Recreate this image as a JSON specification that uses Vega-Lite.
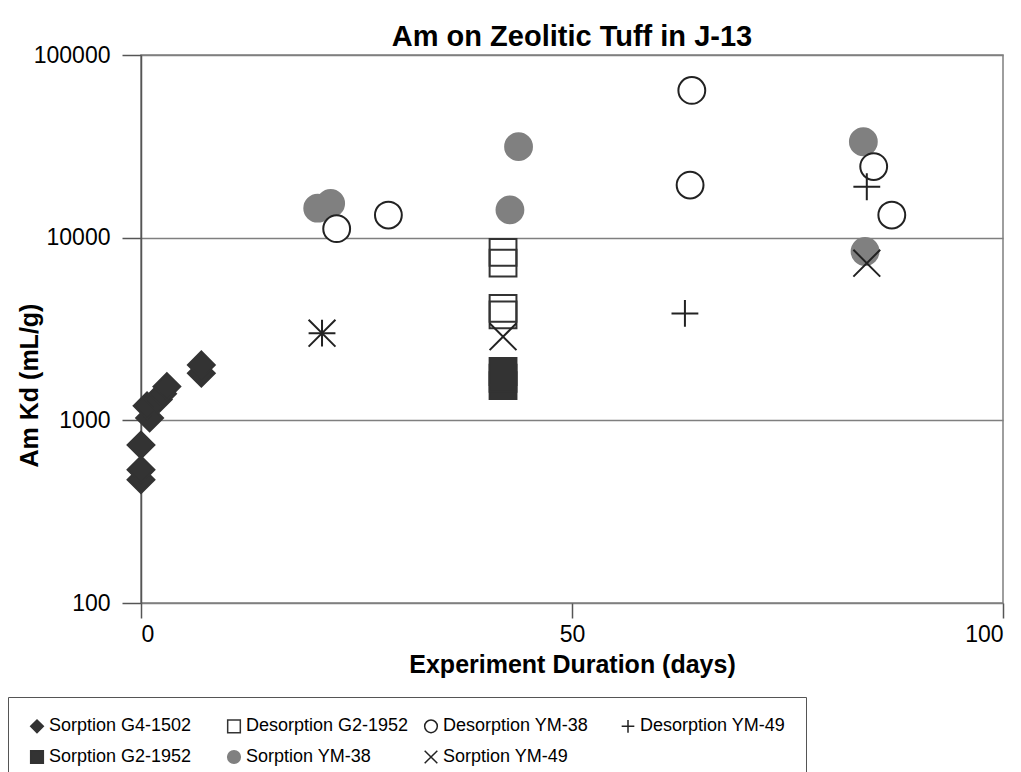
{
  "$schema": "https://vega.github.io/schema/vega-lite/v6.json",
  "width": 862,
  "height": 548,
  "autosize": {"type": "none"},
  "padding": {"left": 141, "top": 55, "right": 18, "bottom": 169},
  "background": "white",
  "title": {
    "text": "Am on Zeolitic Tuff in J-13",
    "font": "Liberation Sans",
    "fontSize": 29,
    "fontWeight": "bold",
    "color": "#000000",
    "anchor": "middle",
    "offset": 6,
    "dy": 14
  },
  "config": {
    "view": {"stroke": "#7f7f7f", "strokeWidth": 1.5},
    "axis": {
      "labelFont": "Liberation Sans",
      "labelFontSize": 23,
      "labelColor": "#000000",
      "titleFont": "Liberation Sans",
      "titleFontSize": 25,
      "titleFontWeight": "bold",
      "titleColor": "#000000",
      "domainColor": "#555555",
      "domainWidth": 1.5,
      "tickColor": "#555555",
      "tickWidth": 1.5,
      "gridColor": "#7f7f7f",
      "gridWidth": 1.5
    }
  },
  "data": {
    "values": [
      {"series": "Sorption G4-1502", "days": 0, "kd": 473},
      {"series": "Sorption G4-1502", "days": 0, "kd": 536},
      {"series": "Sorption G4-1502", "days": 0, "kd": 733},
      {"series": "Sorption G4-1502", "days": 1, "kd": 1030},
      {"series": "Sorption G4-1502", "days": 0.7, "kd": 1200},
      {"series": "Sorption G4-1502", "days": 2, "kd": 1300},
      {"series": "Sorption G4-1502", "days": 2.5, "kd": 1400},
      {"series": "Sorption G4-1502", "days": 3, "kd": 1530},
      {"series": "Sorption G4-1502", "days": 7, "kd": 1810},
      {"series": "Sorption G4-1502", "days": 7, "kd": 2010},
      {"series": "Sorption G2-1952", "days": 42, "kd": 1550},
      {"series": "Sorption G2-1952", "days": 42, "kd": 1700},
      {"series": "Sorption G2-1952", "days": 42, "kd": 1850},
      {"series": "Desorption G2-1952", "days": 42, "kd": 8300},
      {"series": "Desorption G2-1952", "days": 42, "kd": 7250},
      {"series": "Desorption G2-1952", "days": 42, "kd": 4100},
      {"series": "Desorption G2-1952", "days": 42, "kd": 3780},
      {"series": "Sorption YM-38", "days": 20.5, "kd": 14500},
      {"series": "Sorption YM-38", "days": 22, "kd": 15400},
      {"series": "Sorption YM-38", "days": 43.8, "kd": 31500},
      {"series": "Sorption YM-38", "days": 42.8, "kd": 14200},
      {"series": "Sorption YM-38", "days": 83.8, "kd": 33500},
      {"series": "Sorption YM-38", "days": 84, "kd": 8400},
      {"series": "Desorption YM-38", "days": 22.7, "kd": 11200},
      {"series": "Desorption YM-38", "days": 28.7, "kd": 13300},
      {"series": "Desorption YM-38", "days": 63.9, "kd": 64000},
      {"series": "Desorption YM-38", "days": 63.7, "kd": 19400},
      {"series": "Desorption YM-38", "days": 85, "kd": 24500},
      {"series": "Desorption YM-38", "days": 87.1, "kd": 13300},
      {"series": "Sorption YM-49", "days": 21, "kd": 3000},
      {"series": "Sorption YM-49", "days": 42, "kd": 2870},
      {"series": "Sorption YM-49", "days": 84.2, "kd": 7250},
      {"series": "Desorption YM-49", "days": 21, "kd": 3000},
      {"series": "Desorption YM-49", "days": 63.1, "kd": 3850},
      {"series": "Desorption YM-49", "days": 84.2, "kd": 19000}
    ]
  },
  "mark": {"type": "point", "size": 720, "strokeWidth": 2, "opacity": 1},
  "encoding": {
    "x": {
      "field": "days",
      "type": "quantitative",
      "scale": {"domain": [0, 100], "nice": false, "zero": false},
      "axis": {
        "title": "Experiment Duration (days)",
        "values": [0, 50, 100],
        "grid": false,
        "tickSize": 15,
        "labelPadding": 5,
        "titlePadding": 6,
        "domain": false
      }
    },
    "y": {
      "field": "kd",
      "type": "quantitative",
      "scale": {"type": "log", "domain": [100, 100000], "nice": false},
      "axis": {
        "title": "Am Kd (mL/g)",
        "values": [100, 1000, 10000, 100000],
        "format": "d",
        "grid": true,
        "tickSize": 19,
        "labelPadding": 12,
        "titleX": -104,
        "titleY": 330,
        "titleBaseline": "alphabetic",
        "titleAngle": 270
      }
    },
    "shape": {
      "field": "series",
      "type": "nominal",
      "scale": {
        "domain": ["Sorption G4-1502", "Desorption G2-1952", "Desorption YM-38", "Desorption YM-49", "Sorption G2-1952", "Sorption YM-38", "Sorption YM-49"],
        "range": ["diamond", "square", "circle", "M-1,0H1M0,-1V1", "square", "circle", "M-1,-1L1,1M-1,1L1,-1"]
      },
      "legend": {
        "title": null,
        "orient": "none",
        "legendX": -133,
        "legendY": 642,
        "direction": "horizontal",
        "columns": 4,
        "gridAlign": "all",
        "columnPadding": 12,
        "rowPadding": 11,
        "padding": 20,
        "fillColor": "#ffffff",
        "strokeColor": "#555555",
        "symbolSize": 160,
        "symbolStrokeWidth": 1.5,
        "labelFont": "Liberation Sans",
        "labelFontSize": 18,
        "labelColor": "#000000",
        "labelOffset": 3,
        "labelLimit": 300
      }
    },
    "fill": {
      "field": "series",
      "type": "nominal",
      "scale": {
        "domain": ["Sorption G4-1502", "Desorption G2-1952", "Desorption YM-38", "Desorption YM-49", "Sorption G2-1952", "Sorption YM-38", "Sorption YM-49"],
        "range": ["#333333", "transparent", "#ffffff", "transparent", "#333333", "#808080", "transparent"]
      },
      "legend": null
    },
    "stroke": {
      "field": "series",
      "type": "nominal",
      "scale": {
        "domain": ["Sorption G4-1502", "Desorption G2-1952", "Desorption YM-38", "Desorption YM-49", "Sorption G2-1952", "Sorption YM-38", "Sorption YM-49"],
        "range": ["#333333", "#333333", "#222222", "#222222", "#333333", "#808080", "#222222"]
      },
      "legend": null
    }
  }
}
